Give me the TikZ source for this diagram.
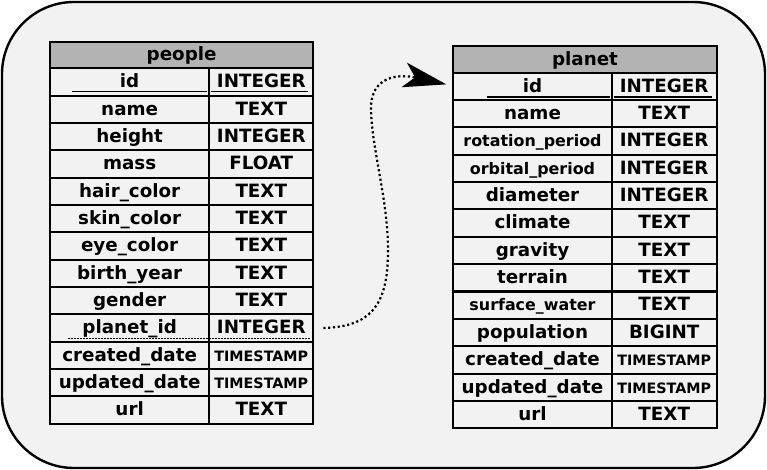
\documentclass[tikz,border=0pt]{standalone}
\usepackage{fontspec}
\setmainfont{DejaVu Sans}
\usetikzlibrary{arrows.meta}
\definecolor{bg}{HTML}{F2F2F2}
\definecolor{hdr}{HTML}{B3B3B3}
\tikzset{
  cell/.style={draw=black, line width=2pt, fill=bg, inner sep=0pt, outer sep=0pt,
    minimum height=27.33pt, text height=11.6pt, text depth=0pt,
    font=\bfseries\fontsize{18.3}{20}\selectfont},
  hdrcell/.style={cell, fill=hdr},
  fs/.style={font=\bfseries\fontsize{18.3}{20}\selectfont},
  fts/.style={font=\bfseries\fontsize{14.3}{16}\selectfont},
  fsa/.style={font=\bfseries\fontsize{15.9}{17}\selectfont},
  keyline/.style={line width=1.3pt},
  fkline/.style={line width=0.9pt, dash pattern=on 2pt off 1pt},
  link/.style={line width=2.2pt, dash pattern=on 2.2pt off 2.6pt,
    -{Stealth[length=43pt,width=25pt,inset=11pt]}}
}
\begin{document}
\begin{tikzpicture}[x=1pt,y=-1pt]
\useasboundingbox (0,0) rectangle (767,470);
\draw[line width=2.4pt, fill=bg, rounded corners=72pt] (2,2) rectangle (765,468);

% people table
\node[hdrcell, minimum width=263.3pt, minimum height=26.6pt] (ph) at (181.65,55) {people};
\foreach \n/\t/\ns/\ts [count=\i] in {
  id/INTEGER/fs/fs, name/TEXT/fs/fs, height/INTEGER/fs/fs, mass/FLOAT/fs/fs,
  hair\_color/TEXT/fs/fs, skin\_color/TEXT/fs/fs, eye\_color/TEXT/fs/fs,
  birth\_year/TEXT/fs/fs, gender/TEXT/fs/fs, planet\_id/INTEGER/fs/fs,
  created\_date/TIMESTAMP/fs/fts, updated\_date/TIMESTAMP/fs/fts, url/TEXT/fs/fs}{
  \node[cell, \ns, minimum width=159.3pt] (pn\i) at (129.65,{68.3+27.33*(\i-0.5)}) {\n};
  \node[cell, \ts, minimum width=104pt] (pt\i) at (261.3,{68.3+27.33*(\i-0.5)}) {\t};
}

% planet table
\node[hdrcell, minimum width=263.4pt, minimum height=26.7pt] (qh) at (585,59.35) {planet};
\foreach \n/\t/\ns/\ts [count=\i] in {
  id/INTEGER/fs/fs, name/TEXT/fs/fs, rotation\_period/INTEGER/fsa/fs,
  orbital\_period/INTEGER/fsa/fs, diameter/INTEGER/fs/fs, climate/TEXT/fs/fs,
  gravity/TEXT/fs/fs, terrain/TEXT/fs/fs, surface\_water/TEXT/fsa/fs,
  population/BIGINT/fs/fs, created\_date/TIMESTAMP/fs/fts,
  updated\_date/TIMESTAMP/fs/fts, url/TEXT/fs/fs}{
  \node[cell, \ns, minimum width=158.4pt] (qn\i) at (532.5,{72.7+27.35*(\i-0.5)}) {\n};
  \node[cell, \ts, minimum width=105pt] (qt\i) at (664.2,{72.7+27.35*(\i-0.5)}) {\t};
}

% key markers
\draw[keyline] ([shift={(22pt,4pt)}]pn1.south west) -- ([shift={(-2pt,4pt)}]pn1.south east);
\draw[keyline] ([shift={(2pt,4pt)}]pt1.south west) -- ([shift={(-5pt,4pt)}]pt1.south east);
\draw[keyline] ([shift={(34pt,3pt)}]qn1.south west) -- ([shift={(-2pt,3pt)}]qn1.south east);
\draw[keyline] ([shift={(2pt,3pt)}]qt1.south west) -- ([shift={(-5pt,3pt)}]qt1.south east);
\draw[fkline] ([shift={(18pt,3.6pt)}]pn10.south west) -- ([shift={(-3pt,3.6pt)}]pt10.south east);

% relation
\draw[link] ([xshift=10pt]pt10.east) .. controls (375,327) and (388,300) .. (388,250)
  .. controls (388,200) and (372,150) .. (371,110)
  .. controls (370,75) and (400,74) .. ([shift={(-7pt,2pt)}]qn1.west);
\end{tikzpicture}
\end{document}
